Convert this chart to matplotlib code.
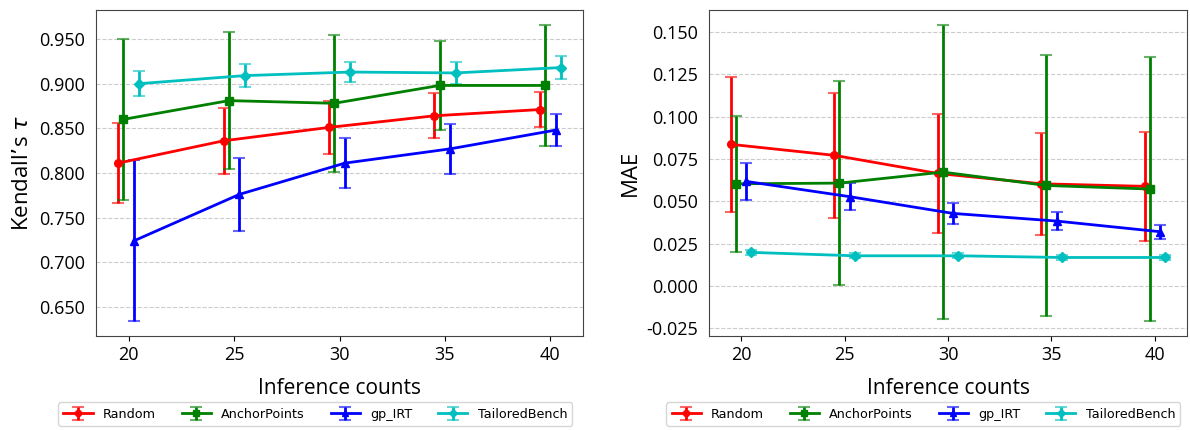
import matplotlib
matplotlib.use("Agg")
import matplotlib.pyplot as plt
import numpy as np

plt.rcParams['font.family'] = ['Open Sans', 'DejaVu Sans']

counts = np.array([20, 25, 30, 35, 40])
methods = ['Random', 'AnchorPoints', 'gp_IRT', 'TailoredBench']
colors = ['red', 'green', 'blue', 'c']
markers = ['o', 's', '^', 'D']
offsets = [-0.5, -0.25, 0.25, 0.5]

# Kendall's tau
tau_random = [0.811, 0.836, 0.851, 0.864, 0.871]
tau_random_err = [0.045, 0.037, 0.030, 0.025, 0.020]
tau_anchor = [0.860, 0.881, 0.878, 0.898, 0.898]
tau_anchor_err = [0.090, 0.077, 0.077, 0.050, 0.068]
tau_gpirt = [0.724, 0.776, 0.811, 0.827, 0.848]
tau_gpirt_err = [0.090, 0.041, 0.028, 0.028, 0.018]
tau_tailored = [0.900, 0.909, 0.913, 0.912, 0.918]
tau_tailored_err = [0.014, 0.013, 0.011, 0.012, 0.013]

# MAE
mae_random = [0.0837, 0.0772, 0.0665, 0.0604, 0.0589]
mae_random_err = [0.040, 0.037, 0.035, 0.030, 0.032]
mae_anchor = [0.0604, 0.0608, 0.0673, 0.0594, 0.0573]
mae_anchor_err = [0.040, 0.060, 0.087, 0.077, 0.078]
mae_gpirt = [0.0618, 0.0528, 0.0429, 0.0384, 0.0321]
mae_gpirt_err = [0.011, 0.008, 0.006, 0.0054, 0.004]
mae_tailored = [0.0199, 0.0179, 0.0179, 0.0169, 0.0169]
mae_tailored_err = [0.0015, 0.0015, 0.0015, 0.0015, 0.0015]

tau_vals = [tau_random, tau_anchor, tau_gpirt, tau_tailored]
tau_errs = [tau_random_err, tau_anchor_err, tau_gpirt_err, tau_tailored_err]
mae_vals = [mae_random, mae_anchor, mae_gpirt, mae_tailored]
mae_errs = [mae_random_err, mae_anchor_err, mae_gpirt_err, mae_tailored_err]

fig = plt.figure(figsize=(11.9, 4.3), dpi=100)
ax1 = fig.add_axes([0.0807, 0.2186, 0.4093, 0.7584])
ax2 = fig.add_axes([0.5958, 0.2186, 0.4017, 0.7584])


def draw(ax, vals, errs, ylabel):
    handles = []
    for i in range(len(methods)):
        h = ax.errorbar(counts + offsets[i], vals[i], yerr=errs[i], label=methods[i],
                        color=colors[i], marker=markers[i], markersize=5.5 if markers[i] != 'D' else 5,
                        linewidth=2, elinewidth=2, capsize=4, capthick=1.5)
        for c in h[1]:
            c.set_alpha(0.6)
        handles.append(h)
    ax.set_xticks(counts)
    ax.set_xlabel('Inference counts', fontsize=15, labelpad=10)
    ax.set_ylabel(ylabel, fontsize=16)
    ax.tick_params(axis='both', labelsize=13)
    ax.tick_params(axis='y', length=0, pad=8)
    ax.grid(axis='y', linestyle='--', color='#cccccc', linewidth=0.8)
    ax.set_axisbelow(True)
    for s in ax.spines.values():
        s.set_color('#444444')
    return handles


h1 = draw(ax1, tau_vals, tau_errs, "Kendall\u2019s $\\tau$")
ax1.yaxis.set_major_formatter(matplotlib.ticker.FormatStrFormatter('%.3f'))
h2 = draw(ax2, mae_vals, mae_errs, 'MAE')
ax2.yaxis.set_major_formatter(matplotlib.ticker.FormatStrFormatter('%.3f'))

leg_kw = dict(loc='center', ncol=4, prop={'family': 'DejaVu Sans', 'size': 9.2},
              handlelength=2.3, handletextpad=0.8, columnspacing=2.0, markerscale=0.8)
fig.legend(h1, methods, bbox_to_anchor=(0.265, 0.037), **leg_kw)
fig.legend(h2, methods, bbox_to_anchor=(0.776, 0.037), **leg_kw)

fig.savefig('out.png', dpi=100)
